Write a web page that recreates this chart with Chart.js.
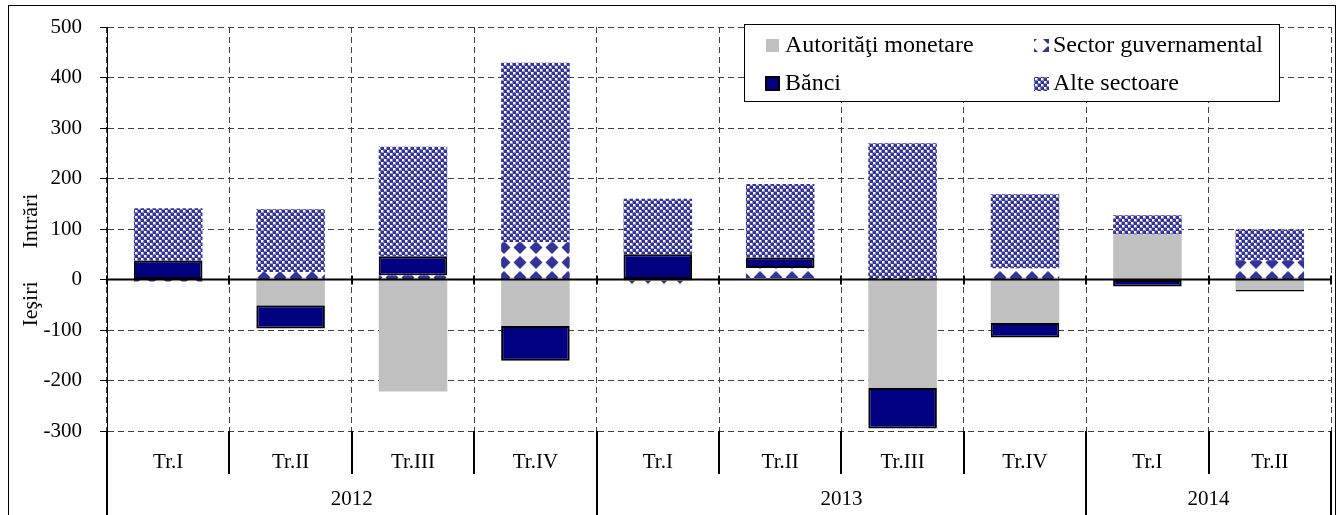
<!DOCTYPE html>
<html>
<head>
<meta charset="utf-8">
<script src="https://cdn.jsdelivr.net/npm/chart.js@4"></script>
<style>
  html, body { margin: 0; padding: 0; background: #fff; }
  #wrap { width: 1342px; height: 515px; position: relative; }
</style>
</head>
<body>
<div id="wrap"><canvas id="flowChart"></canvas></div>
<script>
// quarters and the years they belong to
const quarters = ["Tr.I", "Tr.II", "Tr.III", "Tr.IV", "Tr.I", "Tr.II", "Tr.III", "Tr.IV", "Tr.I", "Tr.II"];
const years = ["2012", "2013", "2014"];
const yearSpans = [4, 4, 2];

// series values
const autoritatiMonetare = [0, -51, -222, -92, -2, 3, -215, -86, 89, -21];
const sectorGuvernamental = [-4, 15, 8, 74, -9, 20, 3, 22, 0, 38];
const banci = [37, -46, 38, -69, 50, 20, -80, -29, -14, -3];
const alteSectoare = [104, 124, 217, 355, 110, 146, 267, 147, 38, 61];

const yTicks = { min: -300, max: 500, step: 100 };

const FONT = "Liberation Serif";
const PATTERN_BLUE = "#333399";

/**
 * Small checkerboard used for "Alte sectoare"
 */
function makeChecker() {
    let c = document.createElement("canvas");
    c.width = 6; c.height = 6;
    let g = c.getContext("2d");
    g.fillStyle = "#8f8fc8";
    g.fillRect(0, 0, 6, 6);
    g.fillStyle = "#fff";
    g.fillRect(3, 0, 2, 2);
    g.fillRect(0, 3, 2, 2);
    g.fillStyle = PATTERN_BLUE;
    g.fillRect(0, 0, 3, 3);
    g.fillRect(3, 3, 3, 3);
    return g.createPattern(c, "repeat");
}

/**
 * Diamond grid used for "Sector guvernamental"
 */
function makeDiamonds() {
    let c = document.createElement("canvas");
    c.width = 16; c.height = 15;
    let g = c.getContext("2d");
    g.fillStyle = "#fff";
    g.fillRect(0, 0, 16, 15);
    g.fillStyle = PATTERN_BLUE;
    g.beginPath();
    g.moveTo(8, 1);
    g.lineTo(14.5, 7.5);
    g.lineTo(8, 14);
    g.lineTo(1.5, 7.5);
    g.closePath();
    g.fill();
    return g.createPattern(c, "repeat");
}

const checker = makeChecker();
const diamonds = makeDiamonds();

// everything drawn around the plot: zero line, category boxes, titles, legend, frame
const decorations = {
    id: "decorations",
    afterDatasetsDraw(chart) {
        const ctx = chart.ctx;
        const y = chart.scales.y;
        const area = chart.chartArea;
        const y0 = y.getPixelForValue(0);
        const step = (area.right - area.left) / quarters.length;

        ctx.save();
        ctx.strokeStyle = "#000";
        ctx.lineWidth = 2;
        ctx.beginPath();
        ctx.moveTo(area.left, y0);
        ctx.lineTo(area.right, y0);
        ctx.stroke();

        // little ticks on the zero line
        for (let i = 0; i <= quarters.length; i++) {
            let bx = Math.round(area.left + i * step);
            ctx.beginPath();
            ctx.moveTo(bx, y0 - 4);
            ctx.lineTo(bx, y0 + 5);
            ctx.stroke();
        }
        ctx.restore();
    },
    afterDraw(chart) {
        const ctx = chart.ctx;
        const x = chart.scales.x;
        const area = chart.chartArea;
        const step = (area.right - area.left) / quarters.length;
        const H = chart.height;

        ctx.save();
        ctx.strokeStyle = "#000";
        ctx.fillStyle = "#000";

        // quarter / year separators under the plot
        let yearEdges = [0];
        yearSpans.forEach(function (n, i) { yearEdges.push(yearEdges[i] + n); });
        ctx.lineWidth = 2;
        for (let i = 0; i <= quarters.length; i++) {
            let bx = Math.round(area.left + i * step);
            let isYear = yearEdges.indexOf(i) >= 0;
            ctx.beginPath();
            ctx.moveTo(bx, area.bottom);
            ctx.lineTo(bx, isYear ? H : area.bottom + 43);
            ctx.stroke();
        }

        ctx.font = "21px '" + FONT + "'";
        ctx.textAlign = "center";
        ctx.textBaseline = "middle";
        quarters.forEach(function (q, i) {
            ctx.fillText(q, x.getPixelForValue(i), area.bottom + 31);
        });
        years.forEach(function (yr, i) {
            let mid = area.left + (yearEdges[i] + yearEdges[i + 1]) / 2 * step;
            ctx.fillText(yr, mid, area.bottom + 68);
        });

        // side titles
        ctx.font = "22px '" + FONT + "'";
        ctx.save();
        ctx.translate(31, 221);
        ctx.rotate(-Math.PI / 2);
        ctx.fillText("Intrări", 0, 0);
        ctx.restore();
        ctx.save();
        ctx.translate(31, 304);
        ctx.rotate(-Math.PI / 2);
        ctx.fillText("Ieşiri", 0, 0);
        ctx.restore();

        // legend box
        const lx = 744.5, ly = 24.5, lw = 535, lh = 77;
        ctx.fillStyle = "#fff";
        ctx.fillRect(lx, ly, lw, lh);
        ctx.lineWidth = 1;
        ctx.strokeRect(lx, ly, lw, lh);

        ctx.fillStyle = "#C0C0C0";
        ctx.fillRect(766, 39, 13, 13);
        ctx.fillStyle = diamonds;
        ctx.fillRect(1034, 39, 15, 13);
        ctx.fillStyle = "#000080";
        ctx.fillRect(765, 76, 15, 15);
        ctx.lineWidth = 2;
        ctx.strokeRect(766, 77, 13, 13);
        ctx.fillStyle = checker;
        ctx.fillRect(1034, 77, 15, 14);

        ctx.font = "24px '" + FONT + "'";
        ctx.fillStyle = "#000";
        ctx.textAlign = "left";
        ctx.fillText("Autorităţi monetare", 785, 46);
        ctx.fillText("Sector guvernamental", 1053, 46);
        ctx.fillText("Bănci", 785, 84);
        ctx.fillText("Alte sectoare", 1053, 84);

        // outer frame
        ctx.lineWidth = 1;
        ctx.strokeRect(8.5, 5.5, 1327, 520);
        ctx.restore();
    }
};

Chart.defaults.font.family = FONT;
Chart.defaults.color = "#000";

let ctx = document.getElementById("flowChart").getContext("2d");
window.myChart = new Chart(ctx, {
    type: "bar",
    data: {
        labels: quarters,
        datasets: [
            {
                label: "Autorităţi monetare",
                data: autoritatiMonetare,
                backgroundColor: "#C0C0C0",
                borderWidth: 0,
            },
            {
                label: "Sector guvernamental",
                data: sectorGuvernamental,
                backgroundColor: diamonds,
                borderWidth: 0,
            },
            {
                label: "Bănci",
                data: banci,
                backgroundColor: "#000080",
                borderColor: "#000",
                borderWidth: 2,
                borderSkipped: false,
            },
            {
                label: "Alte sectoare",
                data: alteSectoare,
                backgroundColor: checker,
                borderWidth: 0,
            },
        ],
    },
    options: {
        responsive: true,
        maintainAspectRatio: false,
        animation: false,
        layout: { padding: { top: 27, right: 11, bottom: 0, left: 0 } },
        datasets: { bar: { barPercentage: 1, categoryPercentage: 0.56 } },
        plugins: {
            legend: { display: false },
            tooltip: { enabled: false },
        },
        scales: {
            x: {
                stacked: true,
                offset: true,
                grid: {
                    offset: true,
                    color: "#404040",
                    lineWidth: 1,
                    drawTicks: false,
                },
                border: { display: false, dash: [6, 4] },
                ticks: { display: false },
                afterFit: function (scale) { scale.height = 84; },
            },
            y: {
                stacked: true,
                min: yTicks.min,
                max: yTicks.max,
                grid: {
                    color: function (c) {
                        return c.tick && c.tick.value === 0 ? "rgba(0,0,0,0)" : "#404040";
                    },
                    lineWidth: 1,
                    tickLength: 7,
                    tickColor: "#000",
                    tickBorderDash: [],
                },
                border: { display: true, color: "#000", width: 1, dash: [6, 4] },
                ticks: {
                    stepSize: yTicks.step,
                    padding: 18,
                    font: { size: 21, family: FONT },
                    color: "#000",
                },
                afterFit: function (scale) {
                    scale.width = 107;
                    scale.paddingTop = 0;
                    scale.paddingBottom = 0;
                },
            },
        },
    },
    plugins: [decorations],
});
</script>
</body>
</html>
